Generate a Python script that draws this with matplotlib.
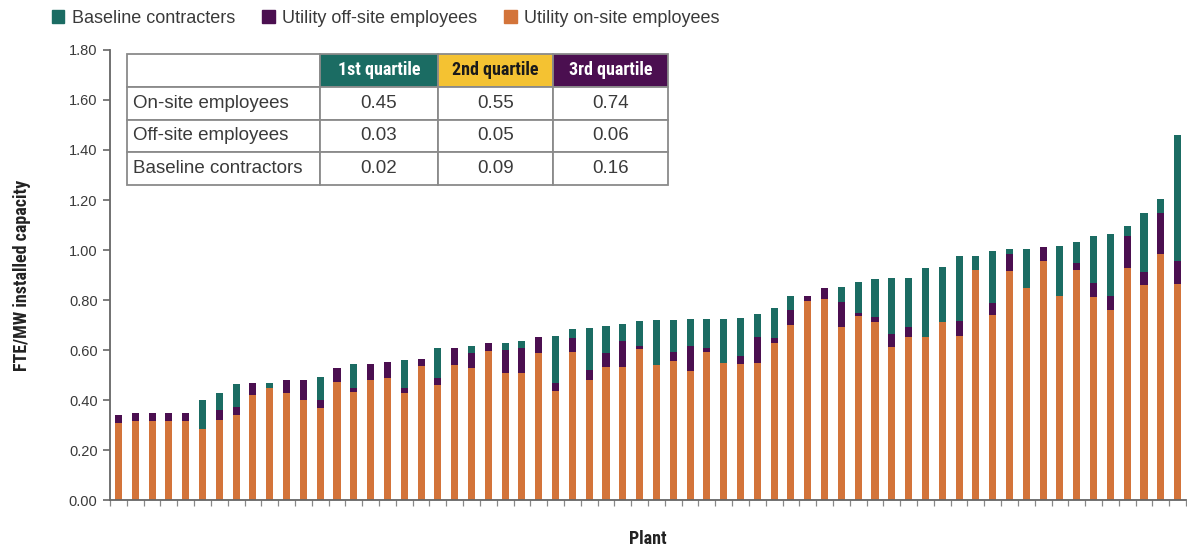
"""Stacked staffing bars per plant, with a quartile summary table."""

import matplotlib
import matplotlib.pyplot as plt
import numpy as np
from matplotlib import font_manager
from matplotlib.patches import Patch

matplotlib.use("Agg")

# FTE per MW installed capacity, one entry per plant (sorted by total)
onsite = [
    0.31, 0.315, 0.315, 0.315, 0.315, 0.285, 0.32, 0.34, 0.42, 0.447,
    0.43, 0.40, 0.37, 0.473, 0.433, 0.48, 0.487, 0.43, 0.536, 0.46,
    0.54, 0.527, 0.596, 0.507, 0.51, 0.587, 0.437, 0.594, 0.48, 0.531,
    0.531, 0.603, 0.54, 0.557, 0.517, 0.594, 0.547, 0.543, 0.547, 0.627,
    0.70, 0.798, 0.804, 0.694, 0.737, 0.714, 0.614, 0.651, 0.651, 0.714,
    0.657, 0.922, 0.741, 0.915, 0.848, 0.955, 0.818, 0.921, 0.812, 0.761,
    0.928, 0.859, 0.986, 0.865,
]
offsite = [
    0.03, 0.035, 0.035, 0.035, 0.035, 0.0, 0.04, 0.033, 0.047, 0.0,
    0.05, 0.08, 0.03, 0.056, 0.017, 0.063, 0.064, 0.02, 0.028, 0.027,
    0.07, 0.063, 0.031, 0.093, 0.098, 0.064, 0.03, 0.053, 0.04, 0.059,
    0.106, 0.014, 0.0, 0.037, 0.10, 0.013, 0.0, 0.033, 0.107, 0.02,
    0.06, 0.02, 0.044, 0.10, 0.011, 0.018, 0.051, 0.043, 0.0, 0.0,
    0.061, 0.0, 0.049, 0.07, 0.0, 0.056, 0.0, 0.027, 0.056, 0.056,
    0.127, 0.052, 0.161, 0.09,
]
contractors = [
    0.0, 0.0, 0.0, 0.0, 0.0, 0.115, 0.07, 0.09, 0.0, 0.02,
    0.0, 0.0, 0.093, 0.0, 0.093, 0.0, 0.0, 0.11, 0.0, 0.12,
    0.0, 0.027, 0.0, 0.03, 0.03, 0.0, 0.19, 0.037, 0.168, 0.107,
    0.068, 0.10, 0.18, 0.127, 0.107, 0.119, 0.178, 0.152, 0.091, 0.12,
    0.056, 0.0, 0.0, 0.057, 0.123, 0.152, 0.223, 0.194, 0.277, 0.218,
    0.26, 0.056, 0.205, 0.02, 0.157, 0.0, 0.197, 0.085, 0.19, 0.249,
    0.043, 0.236, 0.056, 0.505,
]

# Quartile summary
quartile_labels = ["1st quartile", "2nd quartile", "3rd quartile"]
row_labels = ["On-site employees", "Off-site employees", "Baseline contractors"]
quartile_values = [
    ["0.45", "0.55", "0.74"],
    ["0.03", "0.05", "0.06"],
    ["0.02", "0.09", "0.16"],
]

ORANGE = "#d3743a"
PURPLE = "#4b0f50"
TEAL = "#1b6c63"
YELLOW = "#f4c232"
GREY = "#8a8a8a"
TEXT = "#3a3a3a"

available = {f.name for f in font_manager.fontManager.ttflist}
NARROW = next(
    (name for name in ["Liberation Sans Narrow", "Roboto Condensed", "DejaVu Sans"]
     if name in available),
    "DejaVu Sans",
)
plt.rcParams["font.family"] = ["Liberation Sans", "DejaVu Sans"]


def main(output_path="out.png"):
    fig = plt.figure(figsize=(11.87, 5.47), dpi=100)
    ax = fig.add_axes([0.0927, 0.0859, 0.9065, 0.8227])

    x = np.arange(len(onsite))
    on = np.array(onsite)
    off = np.array(offsite)
    con = np.array(contractors)
    width = 0.42
    ax.bar(x, on, width, color=ORANGE)
    ax.bar(x, off, width, bottom=on, color=PURPLE)
    ax.bar(x, con, width, bottom=on + off, color=TEAL)

    ax.set_xlim(-0.5, len(onsite) - 0.5)
    ax.set_ylim(0, 1.8)
    ax.set_yticks(np.arange(0, 1.81, 0.2))
    ax.set_yticklabels([f"{v:.2f}" for v in np.arange(0, 1.81, 0.2)])
    ax.set_xticks(np.arange(len(onsite) + 1) - 0.5)
    ax.set_xticklabels([])
    ax.tick_params(axis="y", length=5, width=1.2, color="#666666",
                   labelsize=10.5, labelcolor=TEXT, pad=4)
    ax.tick_params(axis="x", length=4, width=0.9, color="#888888")
    for side in ("top", "right"):
        ax.spines[side].set_visible(False)
    for side in ("left", "bottom"):
        ax.spines[side].set_color("#666666")
        ax.spines[side].set_linewidth(1.3)

    ax.set_ylabel("FTE/MW installed capacity", fontfamily=NARROW,
                  fontweight="bold", fontsize=13, color="#222222", labelpad=27)
    ax.set_xlabel("Plant", fontfamily=NARROW, fontweight="bold",
                  fontsize=13, color="#222222", labelpad=14)

    # summary table in the upper-left corner
    cell_text = [[label] + vals for label, vals in zip(row_labels, quartile_values)]
    table = ax.table(
        cellText=cell_text,
        colLabels=[""] + quartile_labels,
        cellLoc="center",
        colWidths=[193, 118, 115, 115],
        bbox=[0.0158, 0.70, 0.5028, 0.291],
    )
    table.auto_set_font_size(False)
    table.set_fontsize(13.5)
    header_colors = [None, TEAL, YELLOW, PURPLE]
    header_text = [None, "white", "#1a1a1a", "white"]
    for (r, c), cell in table.get_celld().items():
        cell.set_edgecolor(GREY)
        cell.set_linewidth(1.3)
        if r == 0:
            if c > 0:
                cell.set_facecolor(header_colors[c])
                cell.set_text_props(color=header_text[c], fontweight="bold",
                                    fontfamily=NARROW, fontsize=13)
        else:
            cell.set_text_props(color=TEXT)
            if c == 0:
                cell.PAD = 0.03
                cell.set_text_props(ha="left")

    handles = [
        Patch(color=TEAL, label="Baseline contracters"),
        Patch(color=PURPLE, label="Utility off-site employees"),
        Patch(color=ORANGE, label="Utility on-site employees"),
    ]
    fig.legend(handles=handles, loc="upper left", bbox_to_anchor=(0.030, 1.012),
               ncol=3, frameon=False, fontsize=13, handlelength=0.7,
               handleheight=0.7, handletextpad=0.4, columnspacing=1.5,
               labelcolor=TEXT)

    fig.savefig(output_path, dpi=100)
    plt.close(fig)


if __name__ == "__main__":
    main()
